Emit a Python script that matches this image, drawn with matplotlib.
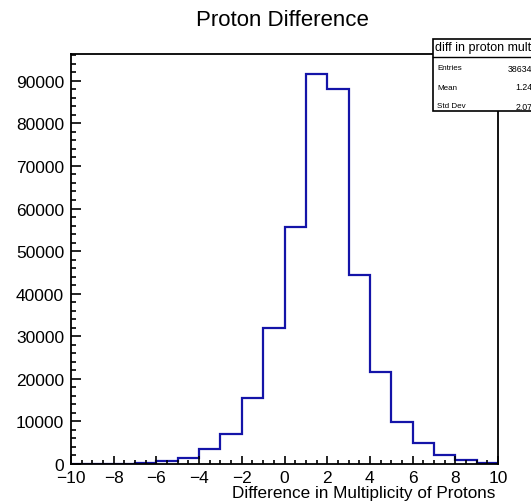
import numpy as np
import matplotlib
matplotlib.use("Agg")
import matplotlib.pyplot as plt
from matplotlib.ticker import MultipleLocator
from matplotlib.patches import Rectangle

plt.rcParams['font.family'] = ['Liberation Sans', 'DejaVu Sans']

# proton multiplicity difference, unit bins from -10 to 10
edges = np.arange(-10, 11)
counts = [0, 0, 0, 200, 600, 1400, 3500, 7100, 15600, 32000,
          55700, 91700, 88000, 44400, 21700, 9900, 5000, 2100, 900, 300]

hist_name = "diff in proton multiplicity"
stat_names = ["Entries", "Mean", "Std Dev"]
stat_values = ["386341", "1.247", "2.078"]

fig = plt.figure(figsize=(5.31, 5.02), dpi=100)
ax = fig.add_axes([71/531, 37/502, 427/531, 410/502])

ax.stairs(counts, edges, color='#1414a8', lw=1.6)

ax.set_xlim(-10, 10)
ax.set_ylim(0, 1.05*max(counts))
ax.xaxis.set_major_locator(MultipleLocator(2))
ax.xaxis.set_minor_locator(MultipleLocator(0.5))
ax.yaxis.set_major_locator(MultipleLocator(10000))
ax.yaxis.set_minor_locator(MultipleLocator(2000))
ax.tick_params(which='both', direction='in', top=False, right=False,
               width=1.2, labelsize=12.5)
ax.tick_params(axis='x', which='major', length=6, pad=4)
ax.tick_params(axis='x', which='minor', length=3)
ax.tick_params(axis='y', which='major', length=7.5, pad=5)
ax.tick_params(axis='y', which='minor', length=3.7)
ax.ticklabel_format(axis='y', style='plain', useOffset=False)
for s in ax.spines.values():
    s.set_linewidth(1.3)

fig.text(282/531, 1 - 20/502, "Proton Difference", ha='center', va='center',
         fontsize=16)
fig.text(495/531, 1 - 494/502, "Difference in Multiplicity of Protons",
         ha='right', va='center', fontsize=12.3)

# stats box, running past the right edge of the canvas
bx0, by0, by1 = 433/531, 1 - 112/502, 1 - 40/502
fig.patches.append(Rectangle((bx0, by0), 0.3, by1 - by0, transform=fig.transFigure,
                             facecolor='white', edgecolor='black', lw=1.2,
                             zorder=5))
sep = 1 - 58/502
fig.add_artist(plt.Line2D([bx0, 1.0], [sep, sep], transform=fig.transFigure,
                          color='black', lw=1.0, zorder=6))
fig.text(bx0 + 2/531, 1 - 48/502, hist_name, fontsize=9, va='center',
         zorder=7)
for i, (nm, val) in enumerate(zip(stat_names, stat_values)):
    y = 1 - (69 + 19*i)/502
    fig.text(437/531, y, nm, fontsize=5.8, va='center', zorder=7)
    fig.text(537/531, y, val, fontsize=6.3, va='center', ha='right', zorder=7)

fig.savefig("out.png", dpi=100)
